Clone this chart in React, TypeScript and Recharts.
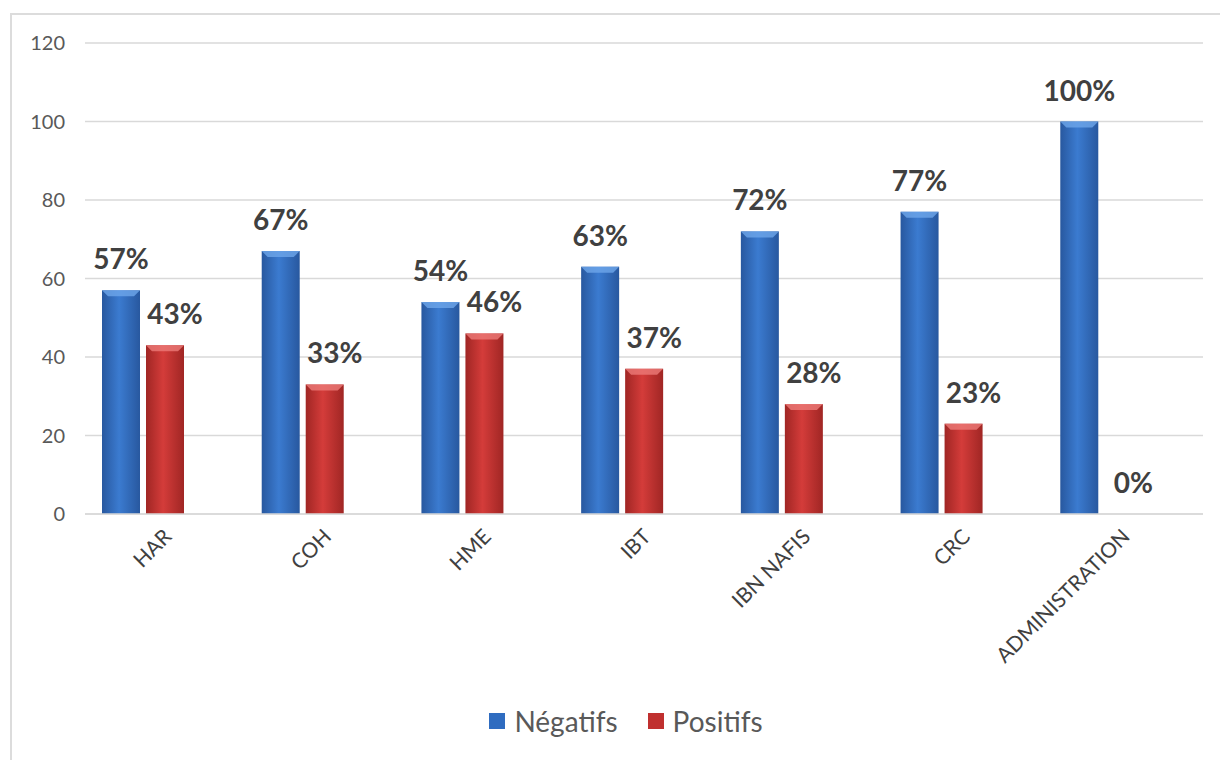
import React from 'react'
import { BarChart, Bar, XAxis, YAxis, CartesianGrid, Legend, LabelList } from 'recharts'

const CATEGORIES = ['HAR', 'COH', 'HME', 'IBT', 'IBN NAFIS', 'CRC', 'ADMINISTRATION']
const NEGATIFS = [57, 67, 54, 63, 72, 77, 100]
const POSITIFS = [43, 33, 46, 37, 28, 23, 0]
const Y_TICKS = [0, 20, 40, 60, 80, 100, 120]

const SERIES = [
  { key: 'neg', name: 'Négatifs', grad: 'gradBlue', swatch: '#2f6cc0', light: '#6ea6ea' },
  { key: 'pos', name: 'Positifs', grad: 'gradRed', swatch: '#c0302f', light: '#ec7a78' },
]

const FONT = 'Lato, "Open Sans", sans-serif'

const data = CATEGORIES.map((c, i) => ({
  name: c,
  neg: NEGATIFS[i],
  pos: POSITIFS[i],
  blank: null, // empty third series in the original workbook, keeps the pair off-centre
}))

function BevelBar(props: any) {
  const { x, y, width, height, fill, light } = props
  if (!height || height <= 0) return null
  const b = Math.min(6, height)
  return (
    <g>
      <rect x={x} y={y} width={width} height={height} fill={fill} />
      <polygon
        points={`${x},${y} ${x + width},${y} ${x + width - b},${y + b} ${x + b},${y + b}`}
        fill={light}
        opacity={0.8}
      />
    </g>
  )
}

function makeLabel(dx: number) {
  return (p: any) => {
    const { x, y, width, value } = p
    return (
      <text
        x={x + width / 2 + dx}
        y={y - 21}
        textAnchor="middle"
        fontFamily={FONT}
        fontWeight={700}
        fontSize={28}
        fill="#404040"
      >
        {value}%
      </text>
    )
  }
}

function XTick(p: any) {
  const { x, y, payload } = p
  const tx = x + 8
  const ty = y + 16
  return (
    <text
      x={tx}
      y={ty}
      transform={`rotate(-45, ${tx}, ${ty})`}
      textAnchor="end"
      fontFamily={FONT}
      fontSize={21}
      fill="#404040"
    >
      {payload.value}
    </text>
  )
}

function LegendBox() {
  return (
    <div style={{ display: 'flex', justifyContent: 'center', gap: 30, fontFamily: FONT, fontSize: 28, color: '#595959' }}>
      {SERIES.map((s) => (
        <div key={s.key} style={{ display: 'flex', alignItems: 'center', gap: 9 }}>
          <span style={{ width: 16, height: 16, background: s.swatch, display: 'inline-block' }} />
          <span>{s.name}</span>
        </div>
      ))}
    </div>
  )
}

export default function App() {
  return (
    <div style={{ position: 'fixed', left: 0, top: 0, width: 1220, height: 760, background: '#fff', overflow: 'hidden' }}>
      <div
        style={{
          position: 'absolute',
          left: 10,
          top: 13,
          width: 1230,
          height: 770,
          border: '2px solid #dcdcdc',
          boxSizing: 'border-box',
        }}
      />
      <BarChart
        width={1220}
        height={760}
        data={data}
        margin={{ top: 43, right: 17, left: 0, bottom: 96 }}
        barGap={6}
        barSize={38}
        style={{ position: 'absolute', left: 0, top: 0 }}
      >
        <defs>
          <linearGradient id="gradBlue" x1="0" y1="0" x2="1" y2="0">
            <stop offset="0" stopColor="#28589f" />
            <stop offset="0.45" stopColor="#3b7bd0" />
            <stop offset="1" stopColor="#28589f" />
          </linearGradient>
          <linearGradient id="gradRed" x1="0" y1="0" x2="1" y2="0">
            <stop offset="0" stopColor="#a02624" />
            <stop offset="0.45" stopColor="#d43c3a" />
            <stop offset="1" stopColor="#a02624" />
          </linearGradient>
        </defs>
        <CartesianGrid vertical={false} stroke="#d9d9d9" strokeWidth={1.5} />
        <XAxis
          dataKey="name"
          interval={0}
          height={150}
          tickLine={false}
          axisLine={{ stroke: '#d9d9d9', strokeWidth: 1.5 }}
          tick={<XTick />}
        />
        <YAxis
          width={85}
          domain={[0, 120]}
          ticks={Y_TICKS}
          axisLine={false}
          tickLine={false}
          tickSize={0}
          tickMargin={20}
          tick={{ fontFamily: FONT, fontSize: 20, fill: '#595959' }}
        />
        <Legend
          layout="horizontal"
          verticalAlign="middle"
          align="center"
          wrapperStyle={{ top: 704, left: 16, width: 1220 }}
          content={<LegendBox />}
        />
        <Bar
          dataKey="neg"
          name="Négatifs"
          fill="url(#gradBlue)"
          isAnimationActive={false}
          shape={(p: any) => <BevelBar {...p} light={SERIES[0].light} />}
        >
          <LabelList dataKey="neg" content={makeLabel(0)} />
        </Bar>
        <Bar
          dataKey="pos"
          name="Positifs"
          fill="url(#gradRed)"
          isAnimationActive={false}
          shape={(p: any) => <BevelBar {...p} light={SERIES[1].light} />}
        >
          <LabelList dataKey="pos" content={makeLabel(10)} />
        </Bar>
        <Bar dataKey="blank" legendType="none" fill="none" isAnimationActive={false} />
      </BarChart>
    </div>
  )
}
